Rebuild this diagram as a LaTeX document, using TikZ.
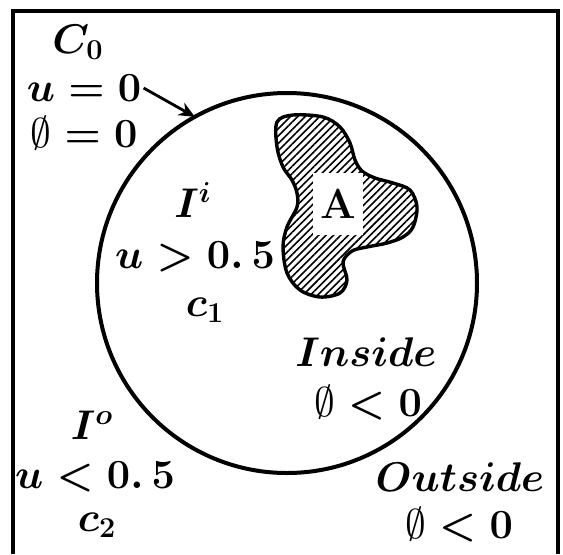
\documentclass[tikz,border=0pt]{standalone}
\usepackage{amsmath,amssymb}
\usepackage{tikz}
\usetikzlibrary{arrows.meta,positioning,patterns.meta}
\definecolor{ink}{HTML}{000000}
\definecolor{paper}{HTML}{FFFFFF}
\newcommand{\lvlset}{\mbox{\unboldmath$\emptyset$}}
\tikzset{
  mathlbl/.style={font=\fontsize{20}{23}\selectfont\boldmath,inner sep=1pt,text=ink},
  bordline/.style={draw=ink,line width=2pt},
  contour/.style={circle,draw=ink,line width=2pt,minimum size=190pt,inner sep=0pt,outer sep=0pt},
  hatchblob/.style={draw=ink,line width=1.7pt,
                    pattern={Lines[angle=45,distance=2.6pt,line width=0.8pt]},pattern color=ink},
  tagbox/.style={fill=paper,minimum width=25pt,minimum height=31pt,inner sep=0pt,
                 font=\fontsize{21}{24}\selectfont\bfseries},
  pointarr/.style={-{Stealth[length=8pt,width=7pt]},line width=1.4pt,color=ink}
}
\begin{document}
\begin{tikzpicture}[x=0.5pt,y=-0.5pt]
  \useasboundingbox (0,0) rectangle (563,554);
  % frame, open at the bottom
  \draw[bordline] (12.5,554) |- (558,10.5) -- (558,554);

  \node[contour] (dom) at (287,283) {};

  % object A
  \draw[hatchblob] plot[smooth cycle,tension=0.55] coordinates {
    (277,122) (293,115) (323,117) (340,127) (350,143) (355,160) (362,171)
    (375,178) (393,183) (410,190) (417,207) (413,227) (403,237) (387,243)
    (367,247) (352,251) (343,262) (347,280) (340,293) (320,297) (300,290)
    (287,273) (283,247) (287,227) (297,207) (297,193) (292,180) (283,167)
    (277,147)};
  \node[tagbox] (tagA) at (338,204) {A};

  % labels outside the contour
  \node[mathlbl] (c0) at (78,42) {$C_0$};
  \node[mathlbl] (uzero) at (84,88) {$u=0$};
  \node[mathlbl] (phizero) at (84,133) {$\lvlset=0$};
  \draw[pointarr] (uzero.east) -- (dom.119);

  % inside region
  \node[mathlbl] (Ii) at (193,200) {$I^i$};
  \node[mathlbl] (ugt) at (195,257) {$u>0.\,5$};
  \node[mathlbl] (c1) at (205,310) {$c_1$};
  \node[mathlbl] (inside) at (366,352) {$Inside$};
  \node[mathlbl] (phiin) at (368,403) {$\lvlset<0$};

  % outside region
  \node[mathlbl] (Io) at (92,425) {$I^o$};
  \node[mathlbl] (ult) at (95,477) {$u<0.\,5$};
  \node[mathlbl] (c2) at (97,525) {$c_2$};
  \node[mathlbl] (outside) at (460,477) {$Outside$};
  \node[mathlbl] (phiout) at (459,525) {$\lvlset<0$};
\end{tikzpicture}
\end{document}
